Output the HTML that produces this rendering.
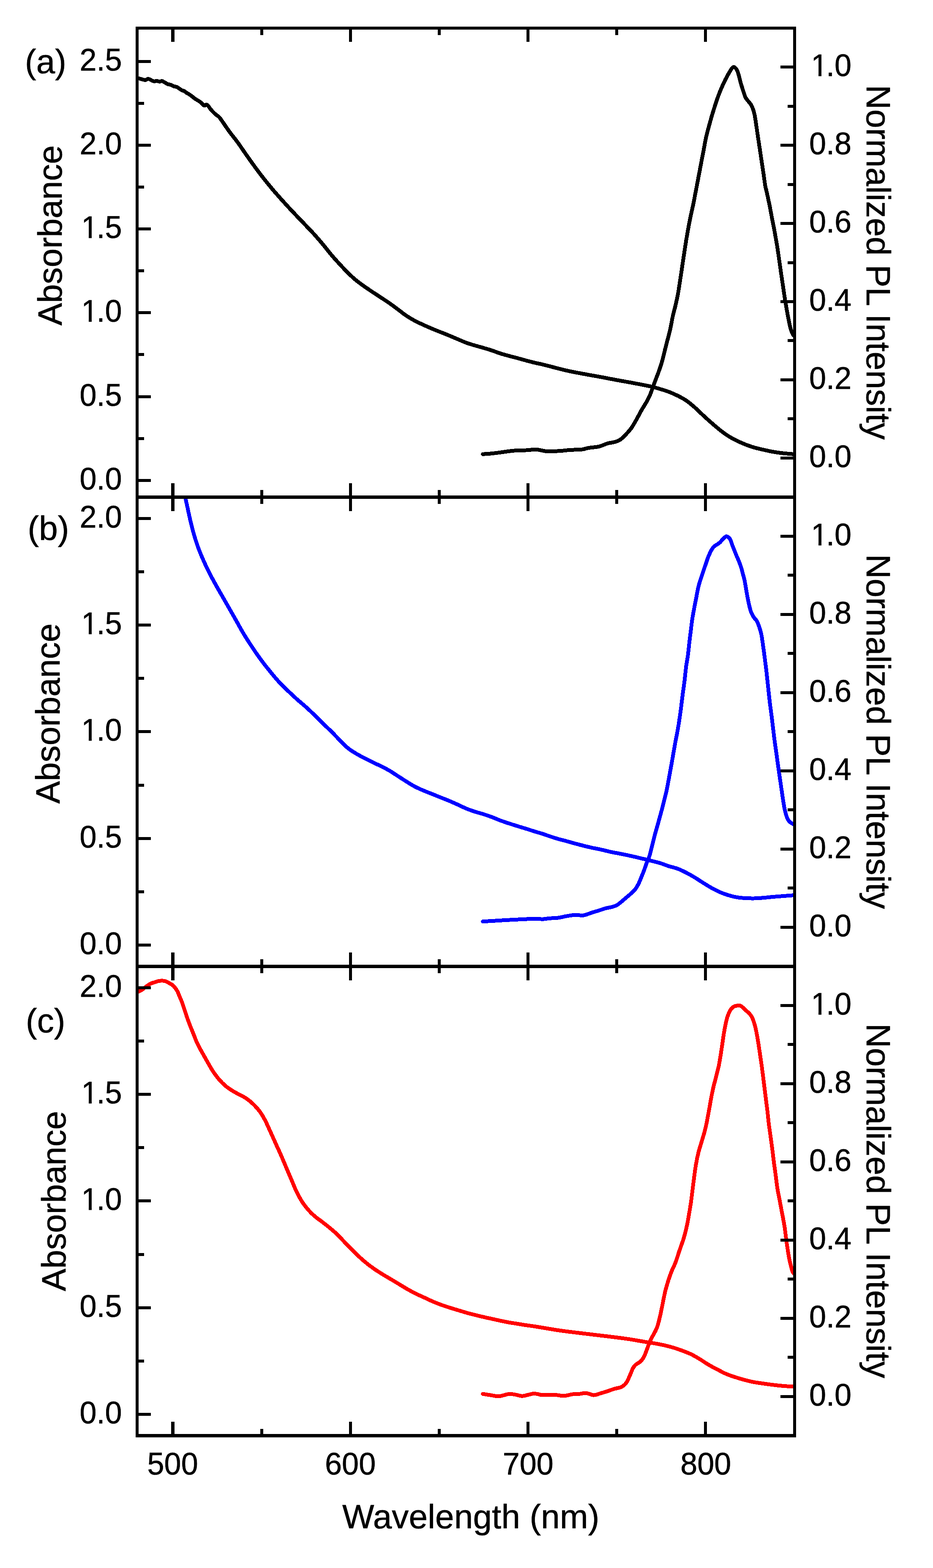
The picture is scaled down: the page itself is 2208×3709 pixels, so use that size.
<!DOCTYPE html>
<html lang="en"><head><meta charset="utf-8"><title>Absorbance and normalized PL intensity</title>
<style>
html,body{margin:0;padding:0;background:#fff}
body{width:2208px;height:3709px;overflow:hidden}
svg{display:block}
text{font-family:"Liberation Sans",sans-serif;fill:#000;stroke:#000;stroke-width:0.7px;stroke-linejoin:round;text-rendering:optimizeSpeed}
.t{font-size:72px}
.a{font-size:80px}
.c{fill:none;stroke-width:9;stroke-linecap:round;stroke-linejoin:round;shape-rendering:crispEdges}
.k{shape-rendering:crispEdges}
</style></head><body>
<svg width="2208" height="3709" viewBox="0 0 2208 3709" role="img" aria-label="Absorbance and normalized PL intensity versus wavelength, panels a to c">
<rect width="2208" height="3709" fill="#fff"/>
<defs>
<clipPath id="cp0"><rect x="324.5" y="66.2" width="1556" height="1109.8"/></clipPath>
<clipPath id="cp1"><rect x="324.5" y="1176" width="1556" height="1110"/></clipPath>
<clipPath id="cp2"><rect x="324.5" y="2286" width="1556" height="1110"/></clipPath>
</defs>
<g clip-path="url(#cp0)" class="c" stroke="#000">
<path d="M316 185.3C318 185.4 324.7 185.2 328.1 185.6C331.4 186 333.5 187 336.2 187.6C338.9 188.3 342 189.5 344.3 189.4C346.5 189.2 347.9 186.9 349.6 186.7C351.4 186.5 353.2 187.3 355 188C356.8 188.8 358.6 190.3 360.4 191C362.2 191.7 364 192.3 365.8 192.3C367.6 192.4 369.2 191.4 371.2 191.5C373.2 191.7 375.9 193.1 378 193.2C380 193.2 381.3 191.4 383.3 191.7C385.4 192 387.8 193.8 390.1 195C392.3 196.3 394.6 198.2 396.8 199.1C399.1 200 401.1 199.6 403.6 200.4C406 201.3 409.2 203.3 411.6 204.2C414.1 205.1 416.1 204.8 418.4 205.8C420.6 206.8 423.1 208.8 425.1 210.1C427.1 211.4 428.7 212.8 430.5 213.6C432.3 214.5 434.1 214.4 435.9 215.4C437.7 216.4 439.3 218.1 441.3 219.4C443.3 220.8 445.8 221.9 448 223.3C450.3 224.8 452.5 226.6 454.8 228.3C457 230 459.3 231.9 461.5 233.5C463.8 235 466 236.2 468.2 237.6C470.5 239.1 472.7 240.3 475 242.2C477.2 244.1 480 247.7 481.7 248.9C483.4 250.2 484 249.8 485.1 249.5C486.2 249.2 487.2 247.3 488.5 247.3C489.7 247.4 490.9 248.2 492.5 249.9C494.1 251.6 495.9 255.2 497.9 257.7C499.9 260.2 502.4 262.8 504.6 265.1C506.9 267.4 508.8 269.3 511.4 271.6C513.9 273.8 514.8 272.1 520 278.6C525.2 285.1 535.3 301 542.4 310.7C549.5 320.4 555.9 327.8 562.6 337C569.3 346.2 576.1 356.5 582.8 366.1C589.5 375.7 596.3 385.2 603 394.4C609.7 403.6 616.5 412.5 623.2 421.1C630 429.7 636.8 438.1 643.5 446.1C650.2 454.1 657 461.6 663.7 469.2C670.4 476.8 677.2 484.1 683.9 491.4C690.6 498.7 697.4 505.7 704.1 512.8C710.8 519.9 717.6 526.8 724.3 533.9C731 541 737.8 547.8 744.5 555.3C751.2 562.8 758 570.6 764.7 578.7C771.5 586.8 779.1 596.8 785 603.8C790.9 610.8 794.1 614.2 800 620.6C805.9 627 813.5 635.4 820.2 642.1C826.9 648.9 833.7 655.4 840.4 661.1C847.1 666.8 853.9 671.5 860.6 676.4C867.4 681.2 874.1 685.7 880.9 690.2C887.6 694.7 894.4 699 901.1 703.5C907.8 708 914.6 712.2 921.3 716.9C928 721.6 934.8 726.8 941.5 731.8C948.2 736.8 955 742.3 961.7 746.8C968.4 751.3 975.1 755.3 981.9 758.9C988.6 762.5 995.5 765.5 1002.2 768.6C1009 771.7 1015.7 774.7 1022.4 777.5C1029.1 780.3 1035.9 782.9 1042.6 785.6C1049.3 788.3 1056.1 790.9 1062.8 793.7C1069.5 796.5 1076.3 799.4 1083 802.2C1089.7 805 1096.5 808.2 1103.2 810.7C1110 813.2 1116.8 815.1 1123.5 817.1C1130.2 819.1 1137 820.8 1143.7 822.8C1150.4 824.8 1157.2 826.7 1163.9 828.9C1170.6 831.1 1177.4 834 1184.1 836.1C1190.8 838.2 1197.6 840 1204.3 841.8C1211 843.6 1217.8 845.3 1224.5 847.1C1231.2 848.9 1238 850.9 1244.7 852.7C1251.5 854.5 1258.2 856.4 1265 858C1271.8 859.6 1272.6 859.3 1285.2 862.4C1297.8 865.5 1324.5 872.7 1340.4 876.4C1356.4 880.1 1367.4 881.8 1380.9 884.4C1394.4 887 1407.8 889.2 1421.3 891.7C1434.8 894.2 1448.2 896.9 1461.7 899.4C1475.2 901.9 1488.7 904.1 1502.2 906.7C1515.7 909.3 1532.5 912.5 1542.6 914.8C1552.7 917.1 1556.1 918.4 1562.8 920.4C1569.5 922.4 1576.3 924.3 1583 926.9C1589.7 929.5 1596.5 932.4 1603.2 935.8C1610 939.2 1616.8 942.5 1623.5 947.1C1630.2 951.7 1637 957.4 1643.7 963.3C1650.4 969.2 1657.2 976.1 1663.9 982.3C1670.6 988.5 1677.4 994.6 1684.1 1000.5C1690.8 1006.4 1697.6 1012.2 1704.3 1017.5C1711 1022.8 1717.8 1027.8 1724.5 1032C1731.2 1036.2 1738 1039.6 1744.7 1042.9C1751.5 1046.2 1758.2 1049.2 1765 1051.8C1771.8 1054.4 1778.5 1056.7 1785.2 1058.7C1791.9 1060.7 1798.7 1062 1805.4 1063.6C1812.1 1065.1 1818.9 1066.7 1825.6 1068C1832.3 1069.3 1839.1 1070.3 1845.8 1071.2C1852.5 1072.1 1859.2 1072.7 1866 1073.3C1872.8 1073.9 1882.9 1074.6 1886.3 1074.9"/>
<path d="M1142.7 1074.3C1146.2 1074 1157 1073.4 1163.9 1072.7C1170.8 1072 1177.4 1071.1 1184.1 1070.2C1190.8 1069.3 1197.6 1068.2 1204.3 1067.4C1211 1066.6 1217.8 1065.8 1224.5 1065.4C1231.2 1065 1237.3 1065.3 1244.7 1065C1252.1 1064.7 1261.6 1063.1 1269 1063.4C1276.4 1063.7 1284 1066.4 1289.2 1067C1294.4 1067.6 1294.2 1067.2 1300 1067.2C1305.8 1067.2 1316.2 1067.3 1324.3 1066.8C1332.4 1066.3 1339.8 1065 1348.5 1064.4C1357.2 1063.8 1369.4 1064 1376.8 1063.2C1384.2 1062.4 1386.2 1060.7 1393 1059.5C1399.8 1058.3 1409.9 1058 1417.3 1056.3C1424.7 1054.5 1431.5 1050.8 1437.5 1049C1443.5 1047.2 1448.5 1047.3 1453.6 1045.8C1458.6 1044.3 1463.1 1043.3 1467.8 1040.1C1472.5 1036.9 1477.5 1031.4 1481.9 1026.8C1486.3 1022.2 1490 1018.3 1494.1 1012.6C1498.1 1006.9 1502.2 999.5 1506.2 992.4C1510.2 985.3 1514.2 977.3 1518.3 970.2C1522.3 963.1 1527.1 956 1530.5 949.9C1533.9 943.8 1535.8 940.2 1538.5 933.8C1541.2 927.4 1543.2 920.6 1546.6 911.5C1550 902.4 1555.4 888.6 1558.8 879.2C1562.2 869.8 1564.1 864.3 1566.8 854.9C1569.5 845.5 1571.7 835.1 1574.9 822.6C1578.1 810.1 1583 792.2 1585.8 780C1588.7 767.8 1589.8 759.1 1591.9 749.5C1594 740 1596.5 731.6 1598.6 722.6C1600.7 713.6 1602.7 704.6 1604.4 695.6C1606.1 686.6 1607.3 677.7 1608.7 668.7C1610.1 659.7 1611.4 650.7 1612.8 641.7C1614.1 632.7 1615.5 623.8 1616.8 614.8C1618.2 605.8 1619.5 596.8 1620.9 587.8C1622.3 578.8 1623.6 569.8 1625.2 560.9C1626.7 551.9 1628.3 542.9 1630 533.9C1631.7 524.9 1633.5 515.9 1635.4 507C1637.3 498 1639.1 491.2 1641.3 480C1643.6 468.8 1646.7 451.7 1649 440C1651.2 428.3 1653 419.1 1654.8 409.5C1656.6 400 1658.2 391.6 1659.9 382.6C1661.6 373.6 1663.4 364.6 1665.1 355.6C1666.9 346.6 1668.2 337.7 1670.1 328.7C1672.1 319.7 1674.5 310.7 1676.9 301.7C1679.3 292.7 1681.8 283.8 1684.4 274.8C1687.1 265.8 1689.8 256.8 1692.8 247.8C1695.7 238.8 1698.7 229.8 1702.2 220.9C1705.7 211.9 1710.8 200.6 1713.9 193.9C1717 187.2 1718.4 184.9 1720.8 180.4C1723.2 175.9 1726.5 170.2 1728.5 167C1730.4 163.7 1731.3 162.3 1732.5 160.9C1733.8 159.5 1734.9 158.6 1736.2 158.5C1737.4 158.4 1738.5 158.8 1739.9 160.2C1741.4 161.6 1743.2 163.6 1744.7 167C1746.2 170.3 1747.7 175.9 1749 180.4C1750.3 184.9 1751.1 189.4 1752.3 193.9C1753.6 198.4 1755 202.9 1756.4 207.4C1757.8 211.9 1759.4 216.8 1760.8 220.9C1762.3 224.9 1763 228.3 1764.9 231.6C1766.8 235 1770.2 238.4 1772.3 241.1C1774.4 243.8 1776 245.6 1777.4 247.8C1778.8 250.1 1779.7 252.3 1780.6 254.6C1781.6 256.8 1782.1 257.9 1783.1 261.3C1784 264.7 1785.2 268 1786.4 274.8C1787.7 281.5 1789.1 292.7 1790.5 301.7C1791.8 310.7 1793.2 319.7 1794.5 328.7C1795.9 337.7 1797.2 346.6 1798.6 355.6C1799.9 364.6 1801.3 373.6 1802.6 382.6C1804 391.6 1805.2 400 1806.7 409.5C1808.1 419.1 1809.9 432.9 1811.1 440C1812.3 447.1 1812.4 444.7 1814 452.1C1815.7 459.5 1818.7 473.5 1820.9 484.2C1823.1 494.9 1825 505.6 1827 516.3C1829.1 527 1831.3 537.7 1833.3 548.4C1835.2 559.1 1837.1 569.8 1838.9 580.4C1840.6 591.1 1842.1 601.8 1843.7 612.5C1845.2 623.2 1846.6 633.9 1848.2 644.6C1849.7 655.3 1851.4 666 1853 676.7C1854.6 687.4 1856.1 698.1 1857.8 708.8C1859.6 719.5 1861.4 730.2 1863.4 740.9C1865.4 751.6 1868.1 765.5 1869.9 773C1871.6 780.5 1872.5 782.3 1873.9 785.8C1875.3 789.3 1876.5 791.7 1878.2 793.8C1879.9 796 1883.3 797.9 1884.3 798.7"/>
</g>
<g clip-path="url(#cp1)" class="c" stroke="#00f">
<path d="M434.4 1153.8C435.2 1158.2 437.8 1172.7 439.3 1180.1C440.8 1187.5 441.6 1190.5 443.3 1198.3C445 1206 447 1216.5 449.4 1226.6C451.8 1236.7 454.5 1248.1 457.5 1258.9C460.5 1269.7 463.9 1280.8 467.6 1291.3C471.3 1301.8 475.3 1311.5 479.7 1321.6C484.1 1331.7 488.8 1341.8 493.9 1351.9C498.9 1362 504.6 1372.5 510 1382.3C515.4 1392.1 520.8 1401.2 526.2 1410.6C531.6 1420 537 1429.5 542.4 1438.9C547.8 1448.3 553.1 1457.7 558.5 1467.2C563.9 1476.7 569.3 1486.9 574.7 1496C580.1 1505.1 585.5 1513.5 590.9 1521.8C596.3 1530.1 601.7 1538.3 607.1 1546C612.5 1553.7 617.8 1561.1 623.2 1568.2C628.6 1575.3 634 1581.9 639.4 1588.5C644.8 1595.1 650.2 1601.8 655.6 1607.9C661 1614 666.4 1619.5 671.8 1624.9C677.2 1630.3 682.5 1635.2 687.9 1640.2C693.3 1645.2 698 1649.8 704.1 1655.2C710.2 1660.6 717.6 1666.5 724.3 1672.6C731 1678.7 737.8 1685.1 744.5 1691.6C751.2 1698.1 758 1705.2 764.7 1711.8C771.5 1718.4 775.8 1722 785 1731.2C794.2 1740.4 811 1758.6 820.2 1766.9C829.4 1775.2 833.7 1776.8 840.4 1781.1C847.1 1785.3 853.9 1788.8 860.6 1792.4C867.4 1796 874.1 1799.2 880.9 1802.5C887.6 1805.8 894.4 1808.8 901.1 1812.2C907.8 1815.6 914.6 1818.8 921.3 1822.7C928 1826.6 934.8 1831.4 941.5 1835.7C948.2 1840 955 1844.4 961.7 1848.6C968.4 1852.8 975.1 1857.1 981.9 1860.7C988.6 1864.3 995.5 1867.1 1002.2 1870C1009 1872.9 1015.7 1875.4 1022.4 1878.1C1029.1 1880.8 1035.9 1883.5 1042.6 1886.2C1049.3 1888.9 1056.1 1891.5 1062.8 1894.3C1069.5 1897.1 1076.3 1900.2 1083 1903.2C1089.7 1906.2 1096.5 1909.7 1103.2 1912.5C1110 1915.3 1116.8 1917.6 1123.5 1919.8C1130.2 1922 1137 1923.6 1143.7 1925.8C1150.4 1928 1157.2 1930.2 1163.9 1932.7C1170.6 1935.2 1177.4 1938.3 1184.1 1940.8C1190.8 1943.3 1197.6 1945.5 1204.3 1947.7C1211 1949.9 1217.8 1952 1224.5 1954.1C1231.2 1956.2 1238 1958.1 1244.7 1960.2C1251.5 1962.3 1258.2 1964.6 1265 1966.7C1271.8 1968.8 1279.4 1970.8 1285.2 1972.7C1291 1974.6 1294.2 1976 1300 1977.9C1305.8 1979.8 1313.5 1982.3 1320.2 1984.3C1326.9 1986.2 1333.7 1987.8 1340.4 1989.6C1347.1 1991.4 1353.8 1993.5 1360.6 1995.3C1367.3 1997.1 1374.2 1998.8 1380.9 2000.5C1387.7 2002.2 1394.4 2003.9 1401.1 2005.4C1407.8 2006.9 1414.6 2007.9 1421.3 2009.4C1428 2010.9 1434.8 2012.8 1441.5 2014.3C1448.2 2015.8 1455 2017 1461.7 2018.3C1468.4 2019.6 1475.2 2020.9 1481.9 2022.3C1488.7 2023.7 1495.5 2025.2 1502.2 2026.8C1509 2028.3 1515.7 2030 1522.4 2031.6C1529.1 2033.2 1535.9 2034.8 1542.6 2036.5C1549.3 2038.2 1556.1 2039.7 1562.8 2041.8C1569.5 2043.9 1576.3 2046.8 1583 2049C1589.7 2051.2 1596.5 2052.2 1603.2 2054.7C1610 2057.2 1616.8 2060.6 1623.5 2064C1630.2 2067.4 1637 2071.3 1643.7 2075.3C1650.4 2079.3 1657.2 2084 1663.9 2088.2C1670.6 2092.4 1677.4 2096.7 1684.1 2100.4C1690.8 2104.1 1697.6 2107.6 1704.3 2110.5C1711 2113.4 1717.8 2115.8 1724.5 2117.8C1731.2 2119.8 1738 2121.5 1744.7 2122.6C1751.5 2123.7 1758.2 2124.2 1765 2124.6C1771.8 2125 1778.5 2125.1 1785.2 2125C1791.9 2124.9 1798.7 2124.3 1805.4 2123.8C1812.1 2123.3 1818.9 2122.4 1825.6 2121.8C1832.3 2121.2 1839.1 2120.7 1845.8 2120.2C1852.5 2119.7 1859.2 2119.1 1866 2118.6C1872.8 2118.1 1882.9 2117.3 1886.3 2117"/>
<path d="M1142.7 2179.7C1146.2 2179.5 1153.6 2179.1 1163.9 2178.5C1174.2 2177.9 1190.8 2176.8 1204.3 2176.1C1217.8 2175.4 1234.6 2174.6 1244.7 2174.1C1254.8 2173.6 1258.2 2173.3 1265 2173.3C1271.8 2173.3 1279.4 2174.3 1285.2 2174.1C1291 2173.9 1294.2 2172.8 1300 2172.3C1305.8 2171.8 1313.5 2172 1320.2 2171.1C1326.9 2170.2 1333.7 2168.2 1340.4 2167.1C1347.1 2166 1353.8 2164.6 1360.6 2164.3C1367.3 2164 1374.3 2166 1380.9 2165.1C1387.5 2164.2 1394.1 2160.8 1400 2159C1405.9 2157.1 1410.8 2155.8 1416.2 2154.1C1421.6 2152.4 1427 2150.3 1432.3 2148.8C1437.7 2147.3 1443.9 2146.5 1448.5 2145.2C1453.1 2144 1456.3 2143.1 1459.8 2141.2C1463.3 2139.3 1466 2136.7 1469.5 2133.9C1473 2131.1 1477.1 2127.4 1480.9 2124.2C1484.6 2121 1488.4 2118 1492.2 2114.5C1496 2111 1500.3 2107.2 1503.5 2103.2C1506.7 2099.1 1508.8 2095.1 1511.3 2090.2C1513.7 2085.4 1515.8 2079.5 1518.1 2074.1C1520.3 2068.7 1522.5 2063.3 1524.5 2057.9C1526.5 2052.5 1528.2 2047.1 1530.2 2041.7C1532.2 2036.3 1534.9 2030.9 1536.7 2025.6C1538.5 2020.2 1538.9 2017.5 1541 2009.4C1543.1 2001.3 1546.3 1987.8 1549.1 1977C1552 1966.3 1555.2 1955.5 1558.2 1944.7C1561.2 1933.9 1564.2 1923.1 1567.1 1912.3C1569.9 1901.6 1573.2 1887.9 1575.1 1880C1577.1 1872.1 1576.9 1873.4 1578.6 1864.9C1580.3 1856.4 1583.1 1840.8 1585.3 1828.8C1587.5 1816.8 1589.6 1804.7 1591.8 1792.7C1593.9 1780.7 1595.9 1768.6 1598.1 1756.6C1600.3 1744.6 1602.9 1732.5 1604.9 1720.5C1607 1708.5 1608.7 1696.4 1610.4 1684.4C1612.1 1672.4 1613.3 1660.3 1614.9 1648.3C1616.4 1636.3 1618.3 1624.2 1619.8 1612.2C1621.3 1600.2 1622.5 1586.5 1623.8 1576.1C1625.2 1565.7 1626.8 1559.4 1628 1550C1629.3 1540.6 1630.3 1529.1 1631.4 1519.5C1632.5 1510 1633.6 1501.6 1634.8 1492.6C1635.9 1483.6 1636.8 1474.6 1638.1 1465.6C1639.5 1456.6 1641.2 1447.7 1642.9 1438.7C1644.5 1429.7 1646.3 1420.7 1648.1 1411.7C1649.9 1402.7 1651.3 1393.8 1653.6 1384.8C1656 1375.8 1659.3 1366.8 1662.3 1357.8C1665.2 1348.8 1669.1 1337.6 1671.4 1330.9C1673.7 1324.1 1674.3 1321.9 1676.1 1317.4C1677.9 1312.9 1680.3 1307.6 1682.2 1303.9C1684.1 1300.2 1685.8 1297.4 1687.6 1295.1C1689.4 1292.9 1691.2 1291.8 1693 1290.4C1694.8 1289.1 1696.6 1288.3 1698.4 1287.1C1700.2 1285.8 1702 1284.7 1703.8 1283C1705.6 1281.3 1707.4 1278.9 1709.2 1277C1711 1275 1712.9 1273 1714.6 1271.6C1716.2 1270.2 1717.7 1268.7 1719.3 1268.6C1720.8 1268.5 1722.4 1269.5 1724 1270.9C1725.6 1272.3 1727.1 1273.7 1728.7 1277C1730.3 1280.2 1731.7 1285.9 1733.4 1290.4C1735.1 1294.9 1737 1299.4 1738.8 1303.9C1740.6 1308.4 1742.5 1313.3 1744.2 1317.4C1745.9 1321.4 1747.2 1323.7 1748.9 1328.2C1750.7 1332.7 1753.2 1339.4 1754.7 1344.3C1756.2 1349.3 1756.9 1353.3 1758.1 1357.8C1759.3 1362.3 1760.7 1366.8 1761.7 1371.3C1762.7 1375.8 1763.4 1380.3 1764.2 1384.8C1764.9 1389.3 1765.7 1393.8 1766.4 1398.2C1767.2 1402.7 1768 1407.2 1768.9 1411.7C1769.7 1416.2 1770.6 1420.7 1771.6 1425.2C1772.5 1429.7 1773.6 1434.6 1774.7 1438.7C1775.8 1442.7 1776.6 1445.9 1778.2 1449.5C1779.7 1453.1 1781.9 1457.1 1784 1460.2C1786.1 1463.4 1788.8 1465.2 1790.7 1468.3C1792.6 1471.5 1793.6 1473.8 1795.4 1479.1C1797.2 1484.4 1799.6 1489.9 1801.7 1500.1C1803.7 1510.3 1805.8 1526.9 1807.7 1540.2C1809.5 1553.6 1811.3 1567 1812.9 1580.3C1814.5 1593.7 1815.8 1607.1 1817.3 1620.4C1818.8 1633.8 1820.1 1647.2 1821.7 1660.6C1823.3 1673.9 1825.3 1687.3 1826.9 1700.7C1828.6 1714 1830 1727.4 1831.7 1740.8C1833.4 1754.2 1835.3 1767.5 1837.2 1780.9C1839 1794.3 1840.9 1807.6 1842.8 1821C1844.7 1834.4 1846.6 1847.8 1848.6 1861.1C1850.6 1874.5 1852.9 1891.2 1854.6 1901.2C1856.3 1911.3 1857.2 1915.6 1858.6 1921.3C1860.1 1927 1861.6 1931.7 1863.2 1935.3C1864.8 1939 1865.9 1941 1868.2 1943.4C1870.6 1945.7 1874.3 1948.2 1877.3 1949.4C1880.3 1950.5 1884.8 1950.2 1886.3 1950.4"/>
</g>
<g clip-path="url(#cp2)" class="c" stroke="#f00">
<path d="M316 2352C318 2350.9 324.7 2347.3 328.1 2345.5C331.4 2343.7 333 2343.3 336.2 2341.2C339.3 2339.1 343.6 2335.3 347 2332.9C350.3 2330.4 353.2 2328.2 356.4 2326.7C359.5 2325.1 362.9 2324.6 365.8 2323.7C368.7 2322.7 371 2321.6 373.9 2321C376.8 2320.3 380.2 2319.7 383.3 2319.8C386.5 2319.8 389.9 2320.3 392.8 2321.3C395.7 2322.3 398.4 2324.4 400.9 2325.7C403.3 2327.1 405.4 2327.6 407.6 2329.4C409.8 2331.2 412.3 2334 414.3 2336.5C416.4 2339 418.1 2341.5 419.7 2344.6C421.3 2347.6 422.8 2351.7 424 2354.7C425.3 2357.7 426.3 2360.1 427.4 2362.8C428.5 2365.5 429.5 2367.3 430.8 2370.9C432.1 2374.5 433.7 2379.8 435.2 2384.3C436.7 2388.8 438.2 2393.3 439.7 2397.8C441.2 2402.3 442.6 2406.8 444.3 2411.3C445.9 2415.8 447.6 2420.3 449.4 2424.8C451.1 2429.3 453 2433.8 454.8 2438.2C456.6 2442.7 458.4 2447.2 460.2 2451.7C462 2456.2 463.5 2460.7 465.6 2465.2C467.6 2469.7 470.1 2474.5 472.3 2478.7C474.5 2482.8 473.7 2481.3 478.6 2490C483.6 2498.7 495.3 2520.2 501.9 2530.7C508.5 2541.2 512.7 2546.5 518.1 2552.9C523.5 2559.3 528.9 2564.5 534.3 2569.1C539.7 2573.7 545.1 2577 550.5 2580.4C555.9 2583.8 561.2 2586.3 566.6 2589.3C572 2592.3 577.4 2594.5 582.8 2598.2C588.2 2601.9 593.6 2606.2 599 2611.5C604.4 2616.8 610.4 2623.3 615.1 2629.7C619.8 2636.1 622.9 2641.5 627.3 2649.9C631.7 2658.3 636.9 2670.5 641.3 2680C645.6 2689.5 649.4 2698 653.4 2707C657.5 2715.9 661.6 2724.9 665.6 2733.9C669.5 2742.9 673.2 2751.9 677 2760.9C680.8 2769.8 684.6 2778.8 688.5 2787.8C692.3 2796.8 696.9 2808 699.9 2814.8C703 2821.5 704.3 2823.8 706.7 2828.2C709.1 2832.7 711.4 2837.2 714.3 2841.7C717.2 2846.2 720.4 2850.7 724 2855.2C727.6 2859.7 731.9 2864.6 735.9 2868.7C739.9 2872.7 743.8 2876 748 2879.5C752.3 2882.9 757 2886.1 761.5 2889.6C766 2893 770.5 2896.4 775 2900.1C779.5 2903.7 784.4 2907.9 788.5 2911.4C792.5 2914.9 793.8 2915.5 799.2 2921C804.7 2926.5 814.3 2937.1 821.3 2944.4C828.3 2951.7 834.8 2958.1 841.5 2964.6C848.2 2971.1 855 2977.5 861.7 2983.2C868.4 2988.9 875.1 2994.1 881.9 2998.9C888.6 3003.8 895.5 3008.1 902.2 3012.3C909 3016.6 915.7 3020.4 922.4 3024.4C929.1 3028.4 935.9 3032.4 942.6 3036.5C949.3 3040.6 956.1 3044.8 962.8 3048.7C969.5 3052.5 976.3 3056.2 983 3059.6C989.7 3063 996.5 3065.8 1003.2 3068.9C1010 3072 1016.8 3075.4 1023.5 3078.3C1030.2 3081.2 1037 3083.8 1043.7 3086.3C1050.4 3088.8 1057.2 3090.9 1063.9 3093.1C1070.6 3095.2 1077.4 3097.2 1084.1 3099.2C1090.8 3101.2 1097.6 3103.4 1104.3 3105.3C1111 3107.2 1117.8 3108.8 1124.5 3110.5C1131.2 3112.2 1138 3113.8 1144.7 3115.4C1151.5 3117 1158.2 3118.3 1165 3119.8C1171.8 3121.3 1178.5 3122.9 1185.2 3124.3C1191.9 3125.7 1198.7 3127.1 1205.4 3128.3C1212.1 3129.5 1218.9 3130.4 1225.6 3131.5C1232.3 3132.6 1239.1 3133.8 1245.8 3134.8C1252.5 3135.8 1253.3 3135.6 1266 3137.6C1278.7 3139.6 1305.5 3144.4 1321.8 3146.8C1338.1 3149.2 1349.7 3150.5 1363.6 3152.2C1377.5 3153.9 1391.4 3155.5 1405.3 3157.2C1419.2 3158.9 1433.2 3160.4 1447.1 3162.2C1461 3163.9 1475 3165.6 1488.9 3167.7C1502.8 3169.8 1520.2 3173.1 1530.7 3174.8C1541.2 3176.5 1544.6 3176.8 1551.6 3178.1C1558.6 3179.3 1565.5 3180.7 1572.5 3182.3C1579.5 3183.9 1586.3 3185.6 1593.3 3187.7C1600.2 3189.8 1607.2 3192.2 1614.2 3194.8C1621.2 3197.4 1628.1 3199.8 1635.1 3203.2C1642.1 3206.5 1649 3210.7 1656 3214.9C1663 3219.1 1669.9 3224.1 1676.9 3228.2C1683.9 3232.3 1690.8 3235.9 1697.8 3239.5C1704.8 3243.1 1711.7 3247 1718.7 3250C1725.7 3253 1732.6 3255.2 1739.6 3257.5C1746.6 3259.8 1753.5 3261.8 1760.5 3263.7C1767.5 3265.6 1774.3 3267.4 1781.3 3268.8C1788.2 3270.2 1795.2 3271.1 1802.2 3272.1C1809.2 3273.1 1816.1 3274.1 1823.1 3275C1830.1 3275.9 1837 3276.8 1844 3277.5C1851 3278.2 1857.9 3278.8 1864.9 3279.2C1871.9 3279.6 1882.3 3279.9 1885.8 3280"/>
<path d="M1142.7 3297.3C1145.7 3297.8 1154.8 3299.2 1160.9 3300.1C1167 3301 1174 3302.9 1179.1 3303C1184.1 3303.1 1186.8 3301.4 1191.2 3300.5C1195.6 3299.6 1200.7 3297.6 1205.4 3297.3C1210.1 3297 1214.5 3298.1 1219.5 3298.9C1224.5 3299.7 1230.6 3302.1 1235.7 3302.2C1240.8 3302.3 1245.2 3300.2 1249.9 3299.3C1254.6 3298.4 1259.3 3296.6 1264 3296.5C1268.7 3296.4 1275.5 3298.4 1278.2 3298.9C1280.9 3299.4 1276.9 3299.2 1280 3299.3C1283.1 3299.4 1291.1 3299.7 1296.7 3299.7C1302.3 3299.7 1307.1 3299 1313.4 3299.3C1319.7 3299.7 1327.3 3302 1334.3 3301.8C1341.3 3301.6 1348.9 3298.8 1355.2 3298C1361.5 3297.2 1366.7 3297.7 1371.9 3297.2C1377.1 3296.7 1380.9 3294.6 1386.5 3295.1C1392.1 3295.6 1399.7 3299.9 1405.3 3300.1C1410.9 3300.3 1414.9 3297.6 1420 3296.2C1425.1 3294.7 1430.8 3293.1 1436.2 3291.3C1441.6 3289.6 1447 3287.3 1452.3 3285.7C1457.7 3284 1464.5 3283.1 1468.5 3281.6C1472.6 3280.1 1474.2 3278.8 1476.6 3276.8C1479 3274.7 1481.2 3272.3 1483.1 3269.5C1485 3266.7 1486.3 3263.3 1487.9 3259.8C1489.5 3256.3 1491.2 3252.2 1492.8 3248.5C1494.4 3244.7 1496 3240.2 1497.6 3237.1C1499.2 3234 1500.6 3231.9 1502.5 3229.9C1504.4 3227.8 1506.8 3226.5 1508.9 3225C1511.1 3223.5 1513.3 3223 1515.4 3221C1517.6 3218.9 1520 3215.8 1521.9 3212.9C1523.8 3209.9 1525.1 3207 1526.7 3203.2C1528.4 3199.4 1530 3194.6 1531.6 3190.2C1533.2 3185.9 1534.8 3181.3 1536.4 3177.3C1538.1 3173.3 1539.4 3169.8 1541.3 3166C1543.2 3162.2 1545.6 3158.7 1547.8 3154.7C1549.9 3150.6 1552.5 3146 1554.2 3141.7C1556 3137.4 1557.1 3133.1 1558.3 3128.8C1559.5 3124.5 1560.4 3120.4 1561.5 3115.8C1562.6 3111.3 1563.7 3106.4 1564.7 3101.3C1565.8 3096.2 1566.9 3090.5 1568 3085.1C1569.1 3079.7 1570.1 3074.3 1571.2 3068.9C1572.3 3063.6 1573.4 3058.2 1574.8 3052.8C1576.1 3047.4 1577.7 3042 1579.3 3036.6C1580.9 3031.2 1582.6 3025.8 1584.5 3020.4C1586.4 3015 1588.3 3009.9 1590.6 3004.3C1593 2998.6 1595.6 2994.3 1598.5 2986.6C1601.4 2978.8 1604.9 2967.3 1608.2 2957.7C1611.4 2948.1 1615.2 2938.4 1618.1 2928.8C1621 2919.2 1623.4 2909.6 1625.5 2899.9C1627.6 2890.3 1629.2 2880.7 1630.8 2871C1632.5 2861.4 1634.1 2851.8 1635.5 2842.2C1636.8 2832.5 1637.8 2822.9 1639.1 2813.3C1640.3 2803.7 1641.5 2794 1642.8 2784.4C1644.1 2774.8 1645.2 2765.2 1646.9 2755.5C1648.5 2745.9 1650.4 2736.3 1652.8 2726.6C1655.2 2717 1658.5 2707.4 1661.3 2697.8C1664.1 2688.1 1666.9 2680.3 1669.5 2668.9C1672.2 2657.5 1675.2 2640.6 1677.3 2629.5C1679.4 2618.5 1680.4 2611.6 1682 2602.6C1683.7 2593.6 1685.4 2584.6 1687.4 2575.6C1689.5 2566.6 1691.9 2557.7 1694.2 2548.7C1696.4 2539.7 1699 2530.7 1700.9 2521.7C1702.8 2512.7 1704.2 2503.8 1705.6 2494.8C1707.1 2485.8 1708.3 2476.8 1709.7 2467.8C1711 2458.8 1712.1 2449.8 1713.7 2440.9C1715.3 2431.9 1717.5 2420.6 1719.1 2413.9C1720.7 2407.2 1721.6 2404.5 1723.2 2400.4C1724.7 2396.4 1726.6 2392.5 1728.3 2389.6C1729.9 2386.8 1731.3 2385.2 1733 2383.6C1734.7 2382 1736.6 2381 1738.4 2380.2C1740.2 2379.4 1742.1 2379.2 1743.8 2378.9C1745.5 2378.6 1746.9 2378.2 1748.5 2378.3C1750.1 2378.4 1751.5 2378.7 1753.2 2379.5C1754.9 2380.4 1756.8 2382 1758.6 2383.6C1760.4 2385.2 1762.2 2387.3 1764 2389C1765.8 2390.7 1767.6 2392 1769.4 2393.7C1771.2 2395.4 1773.1 2397.1 1774.8 2399.1C1776.5 2401.1 1778.1 2403.4 1779.5 2405.8C1780.8 2408.3 1781.7 2410.8 1782.9 2413.9C1784 2417.1 1785 2420.2 1786.2 2424.7C1787.4 2429.2 1788.6 2433.7 1790 2440.9C1791.4 2448.1 1793.3 2458.8 1794.7 2467.8C1796.2 2476.8 1797.4 2485.8 1798.8 2494.8C1800.1 2503.8 1801.4 2512.7 1802.7 2521.7C1803.9 2530.7 1805 2539.7 1806.2 2548.7C1807.3 2557.7 1808.4 2566.6 1809.5 2575.6C1810.7 2584.6 1811.8 2593.6 1812.9 2602.6C1814 2611.6 1815.2 2620 1816.3 2629.5C1817.4 2639.1 1818.4 2650.4 1819.6 2660C1820.9 2669.6 1822.2 2677.9 1823.5 2687.4C1824.8 2696.9 1826.2 2706.7 1827.5 2717C1828.8 2727.3 1830.2 2739.1 1831.5 2749.4C1832.8 2759.7 1834.2 2768.9 1835.6 2779C1836.9 2789.1 1838.2 2800.9 1839.6 2810C1841 2819.1 1842.2 2823.9 1844 2833.4C1845.8 2842.9 1848.2 2855.7 1850.3 2866.8C1852.4 2878 1854.5 2887.8 1856.5 2900.3C1858.5 2912.8 1860 2928.8 1862 2942C1864 2955.2 1866.3 2969.8 1868.2 2979.6C1870.1 2989.3 1871.8 2995.3 1873.3 3000.5C1874.8 3005.7 1875.3 3008.2 1877.4 3011C1879.5 3013.8 1884.4 3016.2 1885.8 3017.3"/>
</g>
<g class="k" fill="#000">
<rect x="321" y="63" width="7" height="3337"/>
<rect x="1877" y="63" width="7" height="3337"/>
<rect x="321" y="63" width="1563" height="7"/>
<rect x="321" y="1172" width="1563" height="8"/>
<rect x="321" y="2282" width="1563" height="8"/>
<rect x="321" y="3392" width="1563" height="8"/>
<rect x="405" y="70" width="8" height="29"/>
<rect x="405" y="1143" width="8" height="66"/>
<rect x="405" y="2253" width="8" height="66"/>
<rect x="405" y="3363" width="8" height="29"/>
<rect x="616" y="70" width="7" height="13"/>
<rect x="616" y="1159" width="7" height="33"/>
<rect x="616" y="2269" width="7" height="33"/>
<rect x="616" y="3380" width="7" height="12"/>
<rect x="826" y="70" width="7" height="29"/>
<rect x="826" y="1143" width="7" height="66"/>
<rect x="826" y="2253" width="7" height="66"/>
<rect x="826" y="3363" width="7" height="29"/>
<rect x="1036" y="70" width="7" height="13"/>
<rect x="1036" y="1159" width="7" height="33"/>
<rect x="1036" y="2269" width="7" height="33"/>
<rect x="1036" y="3380" width="7" height="12"/>
<rect x="1246" y="70" width="7" height="29"/>
<rect x="1246" y="1143" width="7" height="66"/>
<rect x="1246" y="2253" width="7" height="66"/>
<rect x="1246" y="3363" width="7" height="29"/>
<rect x="1456" y="70" width="7" height="13"/>
<rect x="1456" y="1159" width="7" height="33"/>
<rect x="1456" y="2269" width="7" height="33"/>
<rect x="1456" y="3380" width="7" height="12"/>
<rect x="1666" y="70" width="7" height="29"/>
<rect x="1666" y="1143" width="7" height="66"/>
<rect x="1666" y="2253" width="7" height="66"/>
<rect x="1666" y="3363" width="7" height="29"/>
<rect x="328" y="1133" width="29" height="7"/>
<rect x="328" y="1034" width="13" height="7"/>
<rect x="328" y="935" width="29" height="7"/>
<rect x="328" y="835" width="13" height="7"/>
<rect x="328" y="736" width="29" height="7"/>
<rect x="328" y="637" width="13" height="7"/>
<rect x="328" y="538" width="29" height="7"/>
<rect x="328" y="439" width="13" height="7"/>
<rect x="328" y="340" width="29" height="7"/>
<rect x="328" y="241" width="13" height="7"/>
<rect x="328" y="142" width="29" height="7"/>
<rect x="1847" y="1080" width="30" height="7"/>
<rect x="1864" y="987" width="13" height="7"/>
<rect x="1847" y="895" width="30" height="7"/>
<rect x="1864" y="802" width="13" height="7"/>
<rect x="1847" y="710" width="30" height="7"/>
<rect x="1864" y="618" width="13" height="7"/>
<rect x="1847" y="525" width="30" height="7"/>
<rect x="1864" y="433" width="13" height="7"/>
<rect x="1847" y="340" width="30" height="7"/>
<rect x="1864" y="248" width="13" height="7"/>
<rect x="1847" y="155" width="30" height="7"/>
<rect x="328" y="2232" width="29" height="7"/>
<rect x="328" y="2106" width="13" height="7"/>
<rect x="328" y="1980" width="29" height="7"/>
<rect x="328" y="1854" width="13" height="7"/>
<rect x="328" y="1727" width="29" height="7"/>
<rect x="328" y="1601" width="13" height="7"/>
<rect x="328" y="1475" width="29" height="7"/>
<rect x="328" y="1349" width="13" height="7"/>
<rect x="328" y="1223" width="29" height="7"/>
<rect x="1847" y="2190" width="30" height="7"/>
<rect x="1864" y="2097" width="13" height="7"/>
<rect x="1847" y="2005" width="30" height="7"/>
<rect x="1864" y="1912" width="13" height="7"/>
<rect x="1847" y="1820" width="30" height="7"/>
<rect x="1864" y="1727" width="13" height="7"/>
<rect x="1847" y="1635" width="30" height="7"/>
<rect x="1864" y="1542" width="13" height="7"/>
<rect x="1847" y="1450" width="30" height="7"/>
<rect x="1864" y="1357" width="13" height="7"/>
<rect x="1847" y="1265" width="30" height="7"/>
<rect x="328" y="3342" width="29" height="7"/>
<rect x="328" y="3216" width="13" height="7"/>
<rect x="328" y="3090" width="29" height="7"/>
<rect x="328" y="2964" width="13" height="7"/>
<rect x="328" y="2837" width="29" height="7"/>
<rect x="328" y="2711" width="13" height="7"/>
<rect x="328" y="2585" width="29" height="7"/>
<rect x="328" y="2459" width="13" height="7"/>
<rect x="328" y="2333" width="29" height="7"/>
<rect x="1847" y="3300" width="30" height="7"/>
<rect x="1864" y="3207" width="13" height="7"/>
<rect x="1847" y="3115" width="30" height="7"/>
<rect x="1864" y="3022" width="13" height="7"/>
<rect x="1847" y="2930" width="30" height="7"/>
<rect x="1864" y="2837" width="13" height="7"/>
<rect x="1847" y="2745" width="30" height="7"/>
<rect x="1864" y="2652" width="13" height="7"/>
<rect x="1847" y="2560" width="30" height="7"/>
<rect x="1864" y="2467" width="13" height="7"/>
<rect x="1847" y="2375" width="30" height="7"/>
</g>
<text class="t" transform="translate(288.5 1157.7) scale(1 1.02)" text-anchor="end">0.0</text>
<text class="t" transform="translate(288.5 959.5) scale(1 1.02)" text-anchor="end">0.5</text>
<text class="t" transform="translate(188.41 761.3) scale(1 1.02)" dx="3.83 -3.83">1.0</text>
<text class="t" transform="translate(188.41 563.1) scale(1 1.02)" dx="3.83 -3.83">1.5</text>
<text class="t" transform="translate(288.5 365) scale(1 1.02)" text-anchor="end">2.0</text>
<text class="t" transform="translate(288.5 166.8) scale(1 1.02)" text-anchor="end">2.5</text>
<text class="t" transform="translate(1915 1104.5) scale(1 1.02)">0.0</text>
<text class="t" transform="translate(1915 919.5) scale(1 1.02)">0.2</text>
<text class="t" transform="translate(1915 734.6) scale(1 1.02)">0.4</text>
<text class="t" transform="translate(1915 549.6) scale(1 1.02)">0.6</text>
<text class="t" transform="translate(1915 364.7) scale(1 1.02)">0.8</text>
<text class="t" transform="translate(1915.00 179.7) scale(1 1.02)" dx="4.24 -4.24">1.0</text>
<text class="a" x="59" y="173">(a)</text>
<text class="t" transform="translate(288.5 2256.8) scale(1 1.02)" text-anchor="end">0.0</text>
<text class="t" transform="translate(288.5 2004.6) scale(1 1.02)" text-anchor="end">0.5</text>
<text class="t" transform="translate(188.41 1752.3) scale(1 1.02)" dx="3.83 -3.83">1.0</text>
<text class="t" transform="translate(188.41 1500) scale(1 1.02)" dx="3.83 -3.83">1.5</text>
<text class="t" transform="translate(288.5 1247.8) scale(1 1.02)" text-anchor="end">2.0</text>
<text class="t" transform="translate(1915 2214.5) scale(1 1.02)">0.0</text>
<text class="t" transform="translate(1915 2029.5) scale(1 1.02)">0.2</text>
<text class="t" transform="translate(1915 1844.5) scale(1 1.02)">0.4</text>
<text class="t" transform="translate(1915 1659.5) scale(1 1.02)">0.6</text>
<text class="t" transform="translate(1915 1474.5) scale(1 1.02)">0.8</text>
<text class="t" transform="translate(1915.00 1289.5) scale(1 1.02)" dx="4.24 -4.24">1.0</text>
<text class="a" x="65.5" y="1277">(b)</text>
<text class="t" transform="translate(288.5 3366.8) scale(1 1.02)" text-anchor="end">0.0</text>
<text class="t" transform="translate(288.5 3114.6) scale(1 1.02)" text-anchor="end">0.5</text>
<text class="t" transform="translate(188.41 2862.3) scale(1 1.02)" dx="3.83 -3.83">1.0</text>
<text class="t" transform="translate(188.41 2610) scale(1 1.02)" dx="3.83 -3.83">1.5</text>
<text class="t" transform="translate(288.5 2357.8) scale(1 1.02)" text-anchor="end">2.0</text>
<text class="t" transform="translate(1915 3324.5) scale(1 1.02)">0.0</text>
<text class="t" transform="translate(1915 3139.5) scale(1 1.02)">0.2</text>
<text class="t" transform="translate(1915 2954.5) scale(1 1.02)">0.4</text>
<text class="t" transform="translate(1915 2769.5) scale(1 1.02)">0.6</text>
<text class="t" transform="translate(1915 2584.5) scale(1 1.02)">0.8</text>
<text class="t" transform="translate(1915.00 2399.5) scale(1 1.02)" dx="4.24 -4.24">1.0</text>
<text class="a" x="61" y="2442">(c)</text>
<text class="t" transform="translate(408.6 3488) scale(1 1.02)" text-anchor="middle">500</text>
<text class="t" transform="translate(829.1 3488) scale(1 1.02)" text-anchor="middle">600</text>
<text class="t" transform="translate(1249.7 3488) scale(1 1.02)" text-anchor="middle">700</text>
<text class="t" transform="translate(1670.2 3488) scale(1 1.02)" text-anchor="middle">800</text>
<text class="a" transform="translate(146.1 770) rotate(-90)" letter-spacing="-0.05">Absorbance</text>
<text class="a" transform="translate(2050.9 201) rotate(90)" letter-spacing="-0.13">Normalized PL Intensity</text>
<text class="a" transform="translate(141 1901) rotate(-90)" letter-spacing="-0.05">Absorbance</text>
<text class="a" transform="translate(2050.9 1311) rotate(90)" letter-spacing="-0.13">Normalized PL Intensity</text>
<text class="a" transform="translate(155 3054.3) rotate(-90)" letter-spacing="-0.05">Absorbance</text>
<text class="a" transform="translate(2050.9 2421) rotate(90)" letter-spacing="-0.13">Normalized PL Intensity</text>
<text class="a" x="810" y="3615" letter-spacing="0.16">Wavelength (nm)</text>
<g class="k" fill="#fff">
<rect x="196" y="754" width="14" height="9"/>
<rect x="217" y="754" width="14" height="9"/>
<rect x="196" y="556" width="14" height="9"/>
<rect x="217" y="556" width="14" height="9"/>
<rect x="1923" y="173" width="14" height="8"/>
<rect x="1944" y="173" width="14" height="8"/>
<rect x="196" y="1745" width="14" height="9"/>
<rect x="217" y="1745" width="14" height="9"/>
<rect x="196" y="1493" width="14" height="9"/>
<rect x="217" y="1493" width="14" height="9"/>
<rect x="1923" y="1283" width="14" height="8"/>
<rect x="1944" y="1283" width="14" height="8"/>
<rect x="196" y="2855" width="14" height="9"/>
<rect x="217" y="2855" width="14" height="9"/>
<rect x="196" y="2603" width="14" height="9"/>
<rect x="217" y="2603" width="14" height="9"/>
<rect x="1923" y="2393" width="14" height="8"/>
<rect x="1944" y="2393" width="14" height="8"/>
</g>
</svg>
</body></html>
